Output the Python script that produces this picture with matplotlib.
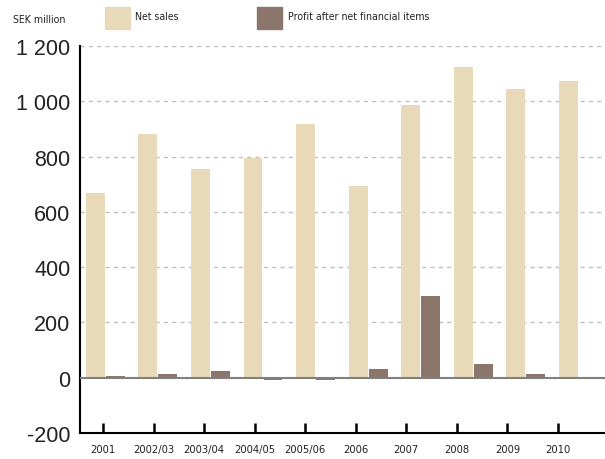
import matplotlib
matplotlib.use("Agg")
import matplotlib.pyplot as plt
import matplotlib.patches as mpatches
import numpy as np

categories = ["2001", "2002/03", "2003/04", "2004/05", "2005/06", "2006", "2007", "2008", "2009", "2010"]
net_sales = [670, 880, 755, 795, 918, 694, 987, 1124, 1044, 1073]
profit = [5, 14, 25, -10, -10, 33, 296, 51, 12, 2]
yticks = [-200, 0, 200, 400, 600, 800, 1000, 1200]
ytick_labels = ["-200", "0", "200", "400", "600", "800", "1 000", "1 200"]

narrow_kw = dict(fontfamily="DejaVu Sans", fontstretch="condensed")

c_sales = "#E8D9B8"
c_profit = "#8C766B"

fig = plt.figure(figsize=(6.05, 4.6), dpi=100)
ax = fig.add_axes([80/605, 1-434/460, 1-80/605, (434-47)/460])

x = np.arange(len(categories))
w = 0.36
ax.bar(x - 0.19, net_sales, width=w, color=c_sales, zorder=2)
ax.bar(x + 0.19, profit, width=w, color=c_profit, zorder=2)

ax.set_ylim(-200, 1200)
ax.set_xlim((80-105.3)/52.56, (605-105.3)/52.56)

ax.set_yticks(yticks)
ax.set_yticklabels(ytick_labels, fontfamily="Liberation Sans", fontsize=15.5)
ax.tick_params(axis="y", length=0, pad=7, colors="#222222")

tick_pos = [(103 + 50.56*i - 105.3)/52.56 for i in range(len(categories))]
ax.set_xticks(tick_pos)
ax.set_xticklabels(categories, fontsize=8, color="#222222", **narrow_kw)
ax.tick_params(axis="x", direction="in", length=7, width=1.8, pad=8, colors="black")
for lab in ax.get_xticklabels():
    lab.set_color("#222222")

for yv in [200, 400, 600, 800, 1000, 1200]:
    ax.axhline(yv, color="#c0c0c0", lw=1, ls=(0, (3, 3)), zorder=1)
ax.axhline(0, color="#808080", lw=1.5, zorder=3)

for s in ["top", "right"]:
    ax.spines[s].set_visible(False)
ax.spines["left"].set_linewidth(1.5)
ax.spines["bottom"].set_linewidth(1.5)

fs_leg = 7.6
fig.text(13/605, 1-20/460, "SEK million", fontsize=fs_leg, va="center", ha="left", color="#222222", **narrow_kw)
fig.patches.append(mpatches.Rectangle((105/605, 1-30/460), 25/605, 22/460, transform=fig.transFigure, color=c_sales))
fig.text(135/605, 1-17/460, "Net sales", fontsize=fs_leg, va="center", ha="left", color="#222222", **narrow_kw)
fig.patches.append(mpatches.Rectangle((257/605, 1-30/460), 25/605, 22/460, transform=fig.transFigure, color=c_profit))
fig.text(288/605, 1-17/460, "Profit after net financial items", fontsize=fs_leg, va="center", ha="left", color="#222222", **narrow_kw)

fig.savefig("out.png", dpi=100)
